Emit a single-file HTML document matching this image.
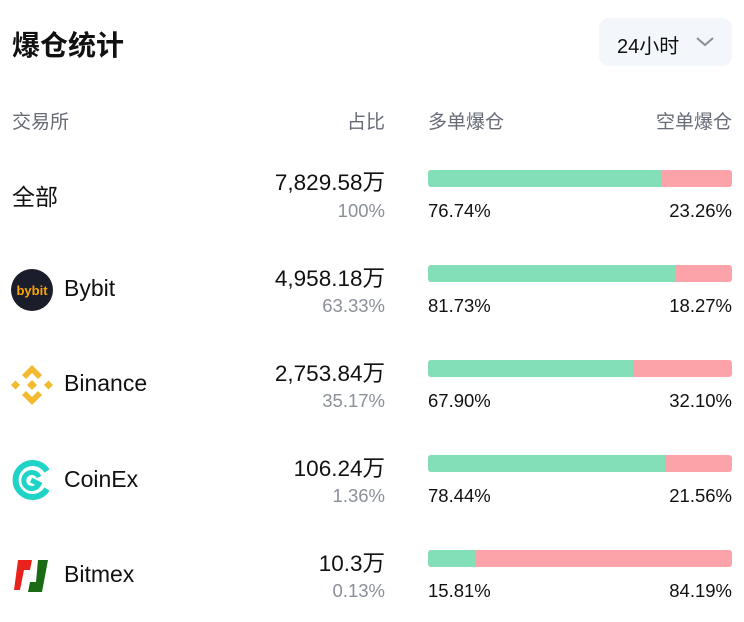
<!DOCTYPE html>
<html><head><meta charset="utf-8"><style>
body{margin:0;width:744px;height:622px;background:#fff;font-family:"Liberation Sans","Noto Sans CJK SC",sans-serif;color:#111;position:relative;overflow:hidden}
.a{position:absolute;white-space:nowrap}
.title{left:12px;top:24px;font-size:28px;font-weight:bold}
.sel{left:599px;top:18px;width:133px;height:48px;background:#f3f6fa;border-radius:10px}
.hd{top:107px;font-size:19px;color:#666b75}
.v{right:359px;font-size:22.5px}
.p{right:359px;font-size:18.5px;color:#8a8f99}
.bar{left:428px;width:304px;height:17px;border-radius:3px;background:#fba3a9;overflow:hidden}
.bar div{height:100%;background:#83dfb7}
.l{left:428px;font-size:18.5px}
.r{right:12px;font-size:18.5px}
.n{left:64px;font-size:23px}
</style></head><body>
<div class="a title">爆仓统计</div>
<div class="a sel"><span class="a" style="left:18px;top:12px;font-size:20px">24小时</span>
<svg class="a" style="left:96px;top:18px" width="20" height="12"><path d="M2 2 L10 9 L18 2" fill="none" stroke="#8a8f99" stroke-width="2"/></svg></div>
<div class="a hd" style="left:12px">交易所</div>
<div class="a hd" style="right:359px">占比</div>
<div class="a hd" style="left:428px">多单爆仓</div>
<div class="a hd" style="right:12px">空单爆仓</div>

<div class="a" style="left:12px;top:178px;font-size:23px">全部</div>
<div class="a v" style="top:165px">7,829.58万</div><div class="a p" style="top:200px">100%</div>
<div class="a bar" style="top:170px"><div style="width:76.74%"></div></div>
<div class="a l" style="top:200px">76.74%</div><div class="a r" style="top:200px">23.26%</div>

<svg class="a" style="left:11px;top:269px" width="42" height="42"><circle cx="21" cy="21" r="21" fill="#1c1d2a"/><text x="21" y="26" text-anchor="middle" font-size="13" font-weight="bold" fill="#f7a600" font-family="Liberation Sans">bybit</text></svg>
<div class="a n" style="top:275px">Bybit</div>
<div class="a v" style="top:261px">4,958.18万</div><div class="a p" style="top:295px">63.33%</div>
<div class="a bar" style="top:265px"><div style="width:81.73%"></div></div>
<div class="a l" style="top:295px">81.73%</div><div class="a r" style="top:295px">18.27%</div>

<svg class="a" style="left:11px;top:364px" width="42" height="42" viewBox="0 0 42 42"><g fill="#f3ba2f"><path d="M21 1l10 10-4 4-6-6-6 6-4-4z"/><path d="M21 41l10-10-4-4-6 6-6-6-4 4z"/><path d="M0 21l4.5-4.5 4.5 4.5-4.5 4.5z"/><path d="M42 21l-4.5-4.5-4.5 4.5 4.5 4.5z"/><path d="M21 16l5 5-5 5-5-5z"/></g></svg>
<div class="a n" style="top:370px">Binance</div>
<div class="a v" style="top:356px">2,753.84万</div><div class="a p" style="top:390px">35.17%</div>
<div class="a bar" style="top:360px"><div style="width:67.9%"></div></div>
<div class="a l" style="top:390px">67.90%</div><div class="a r" style="top:390px">32.10%</div>

<svg class="a" style="left:11px;top:459px" width="42" height="42" viewBox="0 0 42 42"><path d="M36 12A17 17 0 1 0 36 30" fill="none" stroke="#1fd4c6" stroke-width="6"/><path d="M28 18A8 8 0 1 0 28 25L20 21" fill="none" stroke="#1fd4c6" stroke-width="5"/></svg>
<div class="a n" style="top:466px">CoinEx</div>
<div class="a v" style="top:451px">106.24万</div><div class="a p" style="top:485px">1.36%</div>
<div class="a bar" style="top:455px"><div style="width:78.44%"></div></div>
<div class="a l" style="top:485px">78.44%</div><div class="a r" style="top:485px">21.56%</div>

<svg class="a" style="left:12px;top:558px" width="40" height="36" viewBox="0 0 40 36"><path d="M6 2h14l-2 10h-6l-4 20H2z" fill="#e8231c"/><path d="M26 2h10l-6 32H16l2-10h6z" fill="#1a6b14"/></svg>
<div class="a n" style="top:561px">Bitmex</div>
<div class="a v" style="top:546px">10.3万</div><div class="a p" style="top:580px">0.13%</div>
<div class="a bar" style="top:550px"><div style="width:15.81%"></div></div>
<div class="a l" style="top:580px">15.81%</div><div class="a r" style="top:580px">84.19%</div>
</body></html>
